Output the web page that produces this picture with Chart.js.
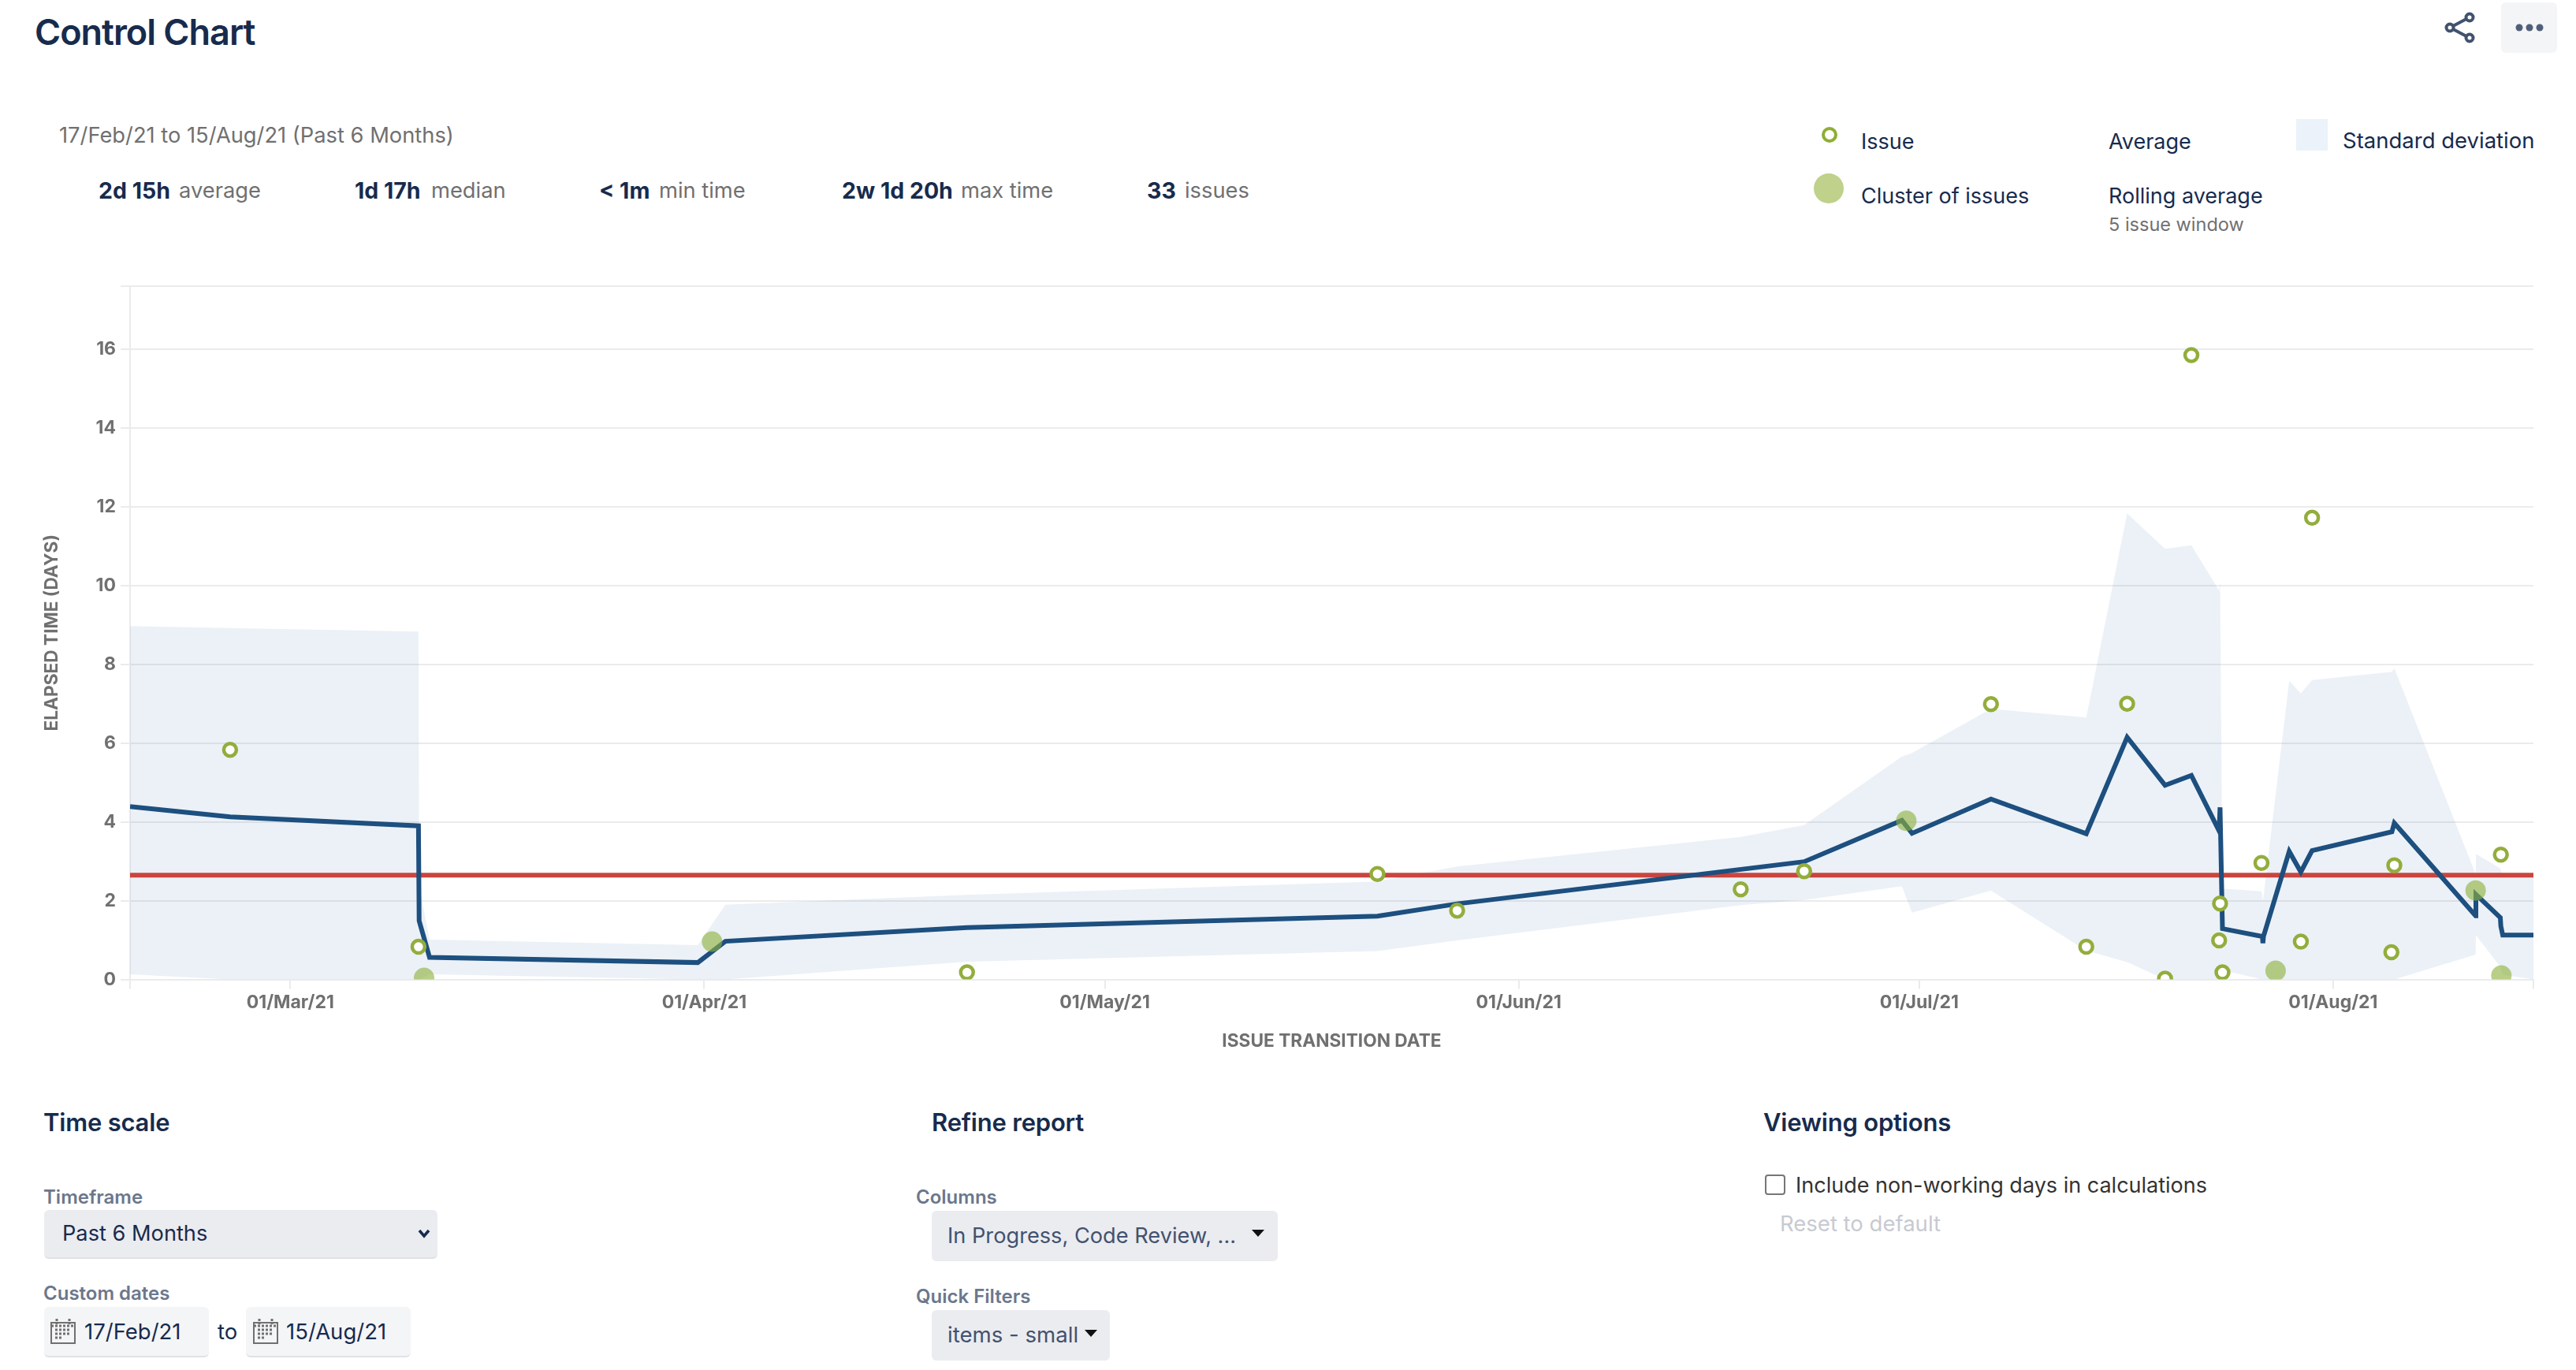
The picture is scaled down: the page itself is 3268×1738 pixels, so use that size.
<!DOCTYPE html>
<html><head><meta charset="utf-8">
<script src="https://cdn.jsdelivr.net/npm/chart.js@4"></script>
<style>
html,body{margin:0;padding:0;background:#fff;width:3268px;height:1738px;overflow:hidden;font-family:Inter,"Noto Sans",sans-serif}
canvas{position:absolute;left:0;top:340px}
.t{position:absolute;white-space:nowrap;line-height:1;transform:translateY(-50%)}
.b{position:absolute}
.navy{color:#172b4d}.grey{color:#707070}
.s{font-size:28.5px;font-weight:700;color:#172b4d}
.g{font-size:27.3px;color:#707070}
.h{font-size:31px;font-weight:600;color:#172b4d;letter-spacing:-.2px}
.l{font-size:24px;font-weight:600;color:#6b778c}
.caret{position:absolute;width:0;height:0;border-left:8px solid transparent;border-right:8px solid transparent;border-top:9px solid #111}
</style></head><body>
<div class="t navy" style="left:44px;top:40px;font-size:45px;font-weight:600;letter-spacing:-1px">Control Chart</div>
<div class="t g" style="left:75px;top:172px;">17/Feb/21 to 15/Aug/21 (Past 6 Months)</div>

<div class="t s" style="left:125px;top:242px">2d 15h</div><div class="t g" style="left:227px;top:242px">average</div>
<div class="t s" style="left:450px;top:242px">1d 17h</div><div class="t g" style="left:547px;top:242px">median</div>
<div class="t s" style="left:760px;top:242px">&lt; 1m</div><div class="t g" style="left:836px;top:242px">min time</div>
<div class="t s" style="left:1068px;top:242px">2w 1d 20h</div><div class="t g" style="left:1219px;top:242px">max time</div>
<div class="t s" style="left:1455px;top:242px">33</div><div class="t g" style="left:1503px;top:242px">issues</div>

<svg class="b" style="left:3101px;top:15px" width="40" height="40" viewBox="0 0 40 40" fill="none" stroke="#42526e" stroke-width="4">
<circle cx="32" cy="7" r="4.5"/><circle cx="32" cy="33" r="4.5"/><circle cx="7" cy="20" r="4.5"/><path d="M11 18L28 9M11 22L28 31"/></svg>
<div class="b" style="left:3173px;top:3px;width:71px;height:64px;background:#f4f5f7;border-radius:6px"></div>
<svg class="b" style="left:3189px;top:25px" width="40" height="20"><circle cx="7" cy="10" r="4.5" fill="#505f79"/><circle cx="20" cy="10" r="4.5" fill="#505f79"/><circle cx="33" cy="10" r="4.5" fill="#505f79"/></svg>

<div class="b" style="left:2311px;top:161px;width:12px;height:12px;border:4px solid #8fae35;border-radius:50%;background:#fff"></div>
<div class="t navy" style="left:2361px;top:179px;font-size:27px">Issue</div>
<div class="t navy" style="left:2675px;top:179px;font-size:27px">Average</div>
<div class="b" style="left:2913px;top:151px;width:40px;height:40px;background:#ebf2f9"></div>
<div class="t navy" style="left:2972px;top:179px;font-size:27.5px">Standard deviation</div>
<div class="b" style="left:2301px;top:220px;width:38px;height:38px;border-radius:50%;background:#bfd18a"></div>
<div class="t navy" style="left:2361px;top:248px;font-size:27px">Cluster of issues</div>
<div class="t navy" style="left:2675px;top:248px;font-size:27px">Rolling average</div>
<div class="t grey" style="left:2675px;top:285px;font-size:23.5px">5 issue window</div>

<div class="t h" style="left:55px;top:1423px">Time scale</div>
<div class="t h" style="left:1182px;top:1423px">Refine report</div>
<div class="t h" style="left:2237px;top:1423px">Viewing options</div>

<div class="t l" style="left:55px;top:1519px">Timeframe</div>
<div class="b" style="left:56px;top:1535px;width:499px;height:60px;background:#ebecf0;border-radius:6px;border-bottom:2px solid #dfe1e6"></div>
<div class="t navy" style="left:79px;top:1565px;font-size:27.2px">Past 6 Months</div>
<svg class="b" style="left:530px;top:1558px" width="16" height="14"><path d="M2 3L8 10L14 3" fill="none" stroke="#172b4d" stroke-width="3.5"/></svg>
<div class="t l" style="left:55px;top:1641px">Custom dates</div>
<div class="b" style="left:56px;top:1658px;width:209px;height:62px;background:#f4f5f7;border-radius:6px;border-bottom:2px solid #dfe1e6"></div>
<div class="b" style="left:312px;top:1658px;width:209px;height:62px;background:#f4f5f7;border-radius:6px;border-bottom:2px solid #dfe1e6"></div>
<svg class="b" style="left:64px;top:1672px" width="33" height="33"><rect x="1" y="6" width="30" height="26" fill="none" stroke="#707070" stroke-width="2"/><path d="M1 10H31M8 1V8M24 1V8M6 15H26M6 20H26M6 25H16" stroke="#707070" stroke-width="3" stroke-dasharray="3 2"/></svg>
<svg class="b" style="left:321px;top:1672px" width="33" height="33"><rect x="1" y="6" width="30" height="26" fill="none" stroke="#707070" stroke-width="2"/><path d="M1 10H31M8 1V8M24 1V8M6 15H26M6 20H26M6 25H16" stroke="#707070" stroke-width="3" stroke-dasharray="3 2"/></svg>
<div class="t navy" style="left:107px;top:1690px;font-size:27.5px">17/Feb/21</div>
<div class="t navy" style="left:276px;top:1690px;font-size:27.5px">to</div>
<div class="t navy" style="left:363px;top:1690px;font-size:27.5px">15/Aug/21</div>

<div class="t l" style="left:1162px;top:1519px">Columns</div>
<div class="b" style="left:1182px;top:1536px;width:439px;height:64px;background:#ebecf0;border-radius:6px"></div>
<div class="t" style="left:1202px;top:1568px;font-size:27.2px;color:#42526e">In Progress, Code Review, ...</div>
<div class="caret" style="left:1588px;top:1560px"></div>
<div class="t l" style="left:1162px;top:1645px">Quick Filters</div>
<div class="b" style="left:1182px;top:1662px;width:226px;height:64px;background:#ebecf0;border-radius:6px"></div>
<div class="t" style="left:1202px;top:1694px;font-size:27.6px;color:#42526e">items - small</div>
<div class="caret" style="left:1376px;top:1687px"></div>

<div class="b" style="left:2239px;top:1490px;width:22px;height:22px;border:2px solid #767676;border-radius:4px"></div>
<div class="t" style="left:2278px;top:1503px;font-size:27px;color:#333">Include non-working days in calculations</div>
<div class="t" style="left:2258px;top:1553px;font-size:27.5px;color:#c7cad1">Reset to default</div>

<canvas id="c" width="3268" height="1010"></canvas>
<script>
// x values are days elapsed since 17/Feb/21
const tickDays   = [0, 12, 43, 73, 104, 134, 165, 180];
const tickLabels = ['', '01/Mar/21', '01/Apr/21', '01/May/21', '01/Jun/21', '01/Jul/21', '01/Aug/21', ''];
const yTicks     = [0, 2, 4, 6, 8, 10, 12, 14, 16, 17.6];

const issueDays   = [7.49, 21.6, 62.68, 93.42, 99.39, 120.63, 125.38, 139.37, 146.51, 149.57, 152.41, 154.38, 156.46, 156.53, 156.71, 159.63, 162.58, 163.42, 169.36, 169.58, 177.56];
const issueValues = [5.83, 0.83, 0.18, 2.68, 1.75, 2.29, 2.75, 6.99, 0.83, 7.0, 0.02, 15.85, 0.99, 1.93, 0.18, 2.96, 0.96, 11.72, 0.69, 2.9, 3.17];

const clusterDays   = [22.02, 43.59, 133.03, 160.69, 175.67, 177.6];
const clusterValues = [0.04, 0.96, 4.03, 0.22, 2.26, 0.1];

const rollingDays   = [0, 7.49, 21.6, 21.65, 22.43, 42.52, 44.59, 62.68, 93.42, 99.39, 125.38, 132.7, 133.46, 139.37, 146.51, 149.57, 152.41, 154.38, 156.46, 156.53, 156.71, 159.7, 159.74, 159.78, 161.71, 162.58, 163.42, 169.4, 169.58, 175.67, 175.69, 177.52, 177.56, 177.7, 180];
const rollingValues = [4.39, 4.13, 3.9, 1.49, 0.56, 0.43, 0.97, 1.32, 1.61, 1.92, 2.99, 4.04, 3.71, 4.58, 3.7, 6.15, 4.93, 5.18, 3.77, 4.37, 1.29, 1.09, 0.92, 1.09, 3.25, 2.73, 3.27, 3.75, 3.97, 1.62, 2.16, 1.57, 1.35, 1.13, 1.13];

const bandDays  = [0, 7.49, 21.6, 21.65, 22.43, 42.52, 44.59, 62.68, 93.42, 99.39, 120.63, 125.38, 132.7, 133.46, 139.37, 146.51, 149.57, 152.41, 154.38, 156.46, 156.53, 156.71, 159.63, 159.74, 161.71, 162.58, 163.42, 169.4, 169.58, 175.67, 175.69, 177.52, 177.7, 180];
const bandUpper = [8.97, 8.92, 8.83, 2.39, 1.01, 0.87, 1.9, 2.15, 2.49, 2.87, 3.62, 3.92, 5.66, 5.75, 6.87, 6.65, 11.83, 10.93, 11.02, 9.87, 10.08, 2.31, 2.24, 1.99, 7.58, 7.26, 7.6, 7.81, 7.9, 2.68, 3.19, 2.82, 2.6, 2.6];
const bandLower = [0.13, 0, 0, 0, 0.13, 0, 0, 0.45, 0.72, 0.99, 1.89, 2.02, 2.37, 1.7, 2.26, 0.73, 0.44, 0, 0, 0, 0, 0.24, 0, 0, 0, 0, 0, 0, 0, 0.63, 1.13, 0.32, 0.12, 0];

const averageDays   = [0, 180];
const averageValues = [2.65, 2.65];

const xy = (xs, ys) => xs.map((x, i) => ({ x, y: ys[i] }));
const GRID = '#ebebeb', TICK = '#707070';
const tickFont = { family: 'Inter', size: 23, weight: '700' };
const titleFont = { family: 'Inter', size: 22.7, weight: '700' };

new Chart(document.getElementById('c'), {
  type: 'scatter',
  data: { datasets: [
    { label: 'Issue', data: xy(issueDays, issueValues), clip: 0, pointRadius: 8, pointBorderWidth: 4.5,
      pointBackgroundColor: '#fff', pointBorderColor: '#93ad3c', showLine: false },
    { label: 'Cluster of issues', data: xy(clusterDays, clusterValues), clip: 0, pointRadius: 13, pointBorderWidth: 0,
      pointBackgroundColor: 'rgba(142,176,60,0.62)', showLine: false },
    { label: 'Rolling average', data: xy(rollingDays, rollingValues), showLine: true, pointRadius: 0,
      borderColor: '#1d4f7f', borderWidth: 6, borderJoinStyle: 'miter', tension: 0 },
    { label: 'Average', data: xy(averageDays, averageValues), showLine: true, pointRadius: 0,
      borderColor: '#c9453e', borderWidth: 6, tension: 0 },
    { label: 'Standard deviation', data: xy(bandDays, bandUpper), showLine: true, pointRadius: 0, borderWidth: 0,
      borderColor: 'transparent', fill: '+1', backgroundColor: 'rgba(60,120,180,0.1)', tension: 0 },
    { label: 'Lower', data: xy(bandDays, bandLower), showLine: true, pointRadius: 0, borderWidth: 0,
      borderColor: 'transparent', tension: 0 }
  ] },
  options: {
    responsive: false, animation: false, devicePixelRatio: 1,
    layout: { padding: { left: 0, right: 54, top: 23, bottom: 0 } },
    plugins: { legend: { display: false }, tooltip: { enabled: false } },
    scales: {
      x: { type: 'linear', min: 0, max: 180,
        afterBuildTicks: s => { s.ticks = tickDays.map(v => ({ value: v })); },
        afterFit: s => { s.height = 107.4; },
        grid: { drawOnChartArea: false, drawTicks: true, tickLength: 12, color: GRID, lineWidth: 2 },
        border: { color: GRID, width: 2 },
        ticks: { autoSkip: false, maxRotation: 0, padding: 4, color: TICK, font: tickFont,
          callback: v => tickLabels[tickDays.indexOf(v)] },
        title: { display: true, text: 'ISSUE TRANSITION DATE', color: TICK, font: titleFont, padding: { top: 0, bottom: 15 } } },
      y: { type: 'linear', min: 0, max: 17.6,
        afterBuildTicks: s => { s.ticks = yTicks.map(v => ({ value: v })); },
        afterFit: s => { s.width = 165; },
        grid: { color: GRID, lineWidth: 2, tickLength: 12 },
        border: { color: GRID, width: 2 },
        ticks: { autoSkip: false, padding: 6, color: TICK, font: tickFont,
          callback: v => v === 17.6 ? '' : v },
        title: { display: true, text: 'ELAPSED TIME (DAYS)', color: TICK, font: titleFont, padding: { top: 53, bottom: 0 } } }
    }
  }
});
</script>
</body></html>
